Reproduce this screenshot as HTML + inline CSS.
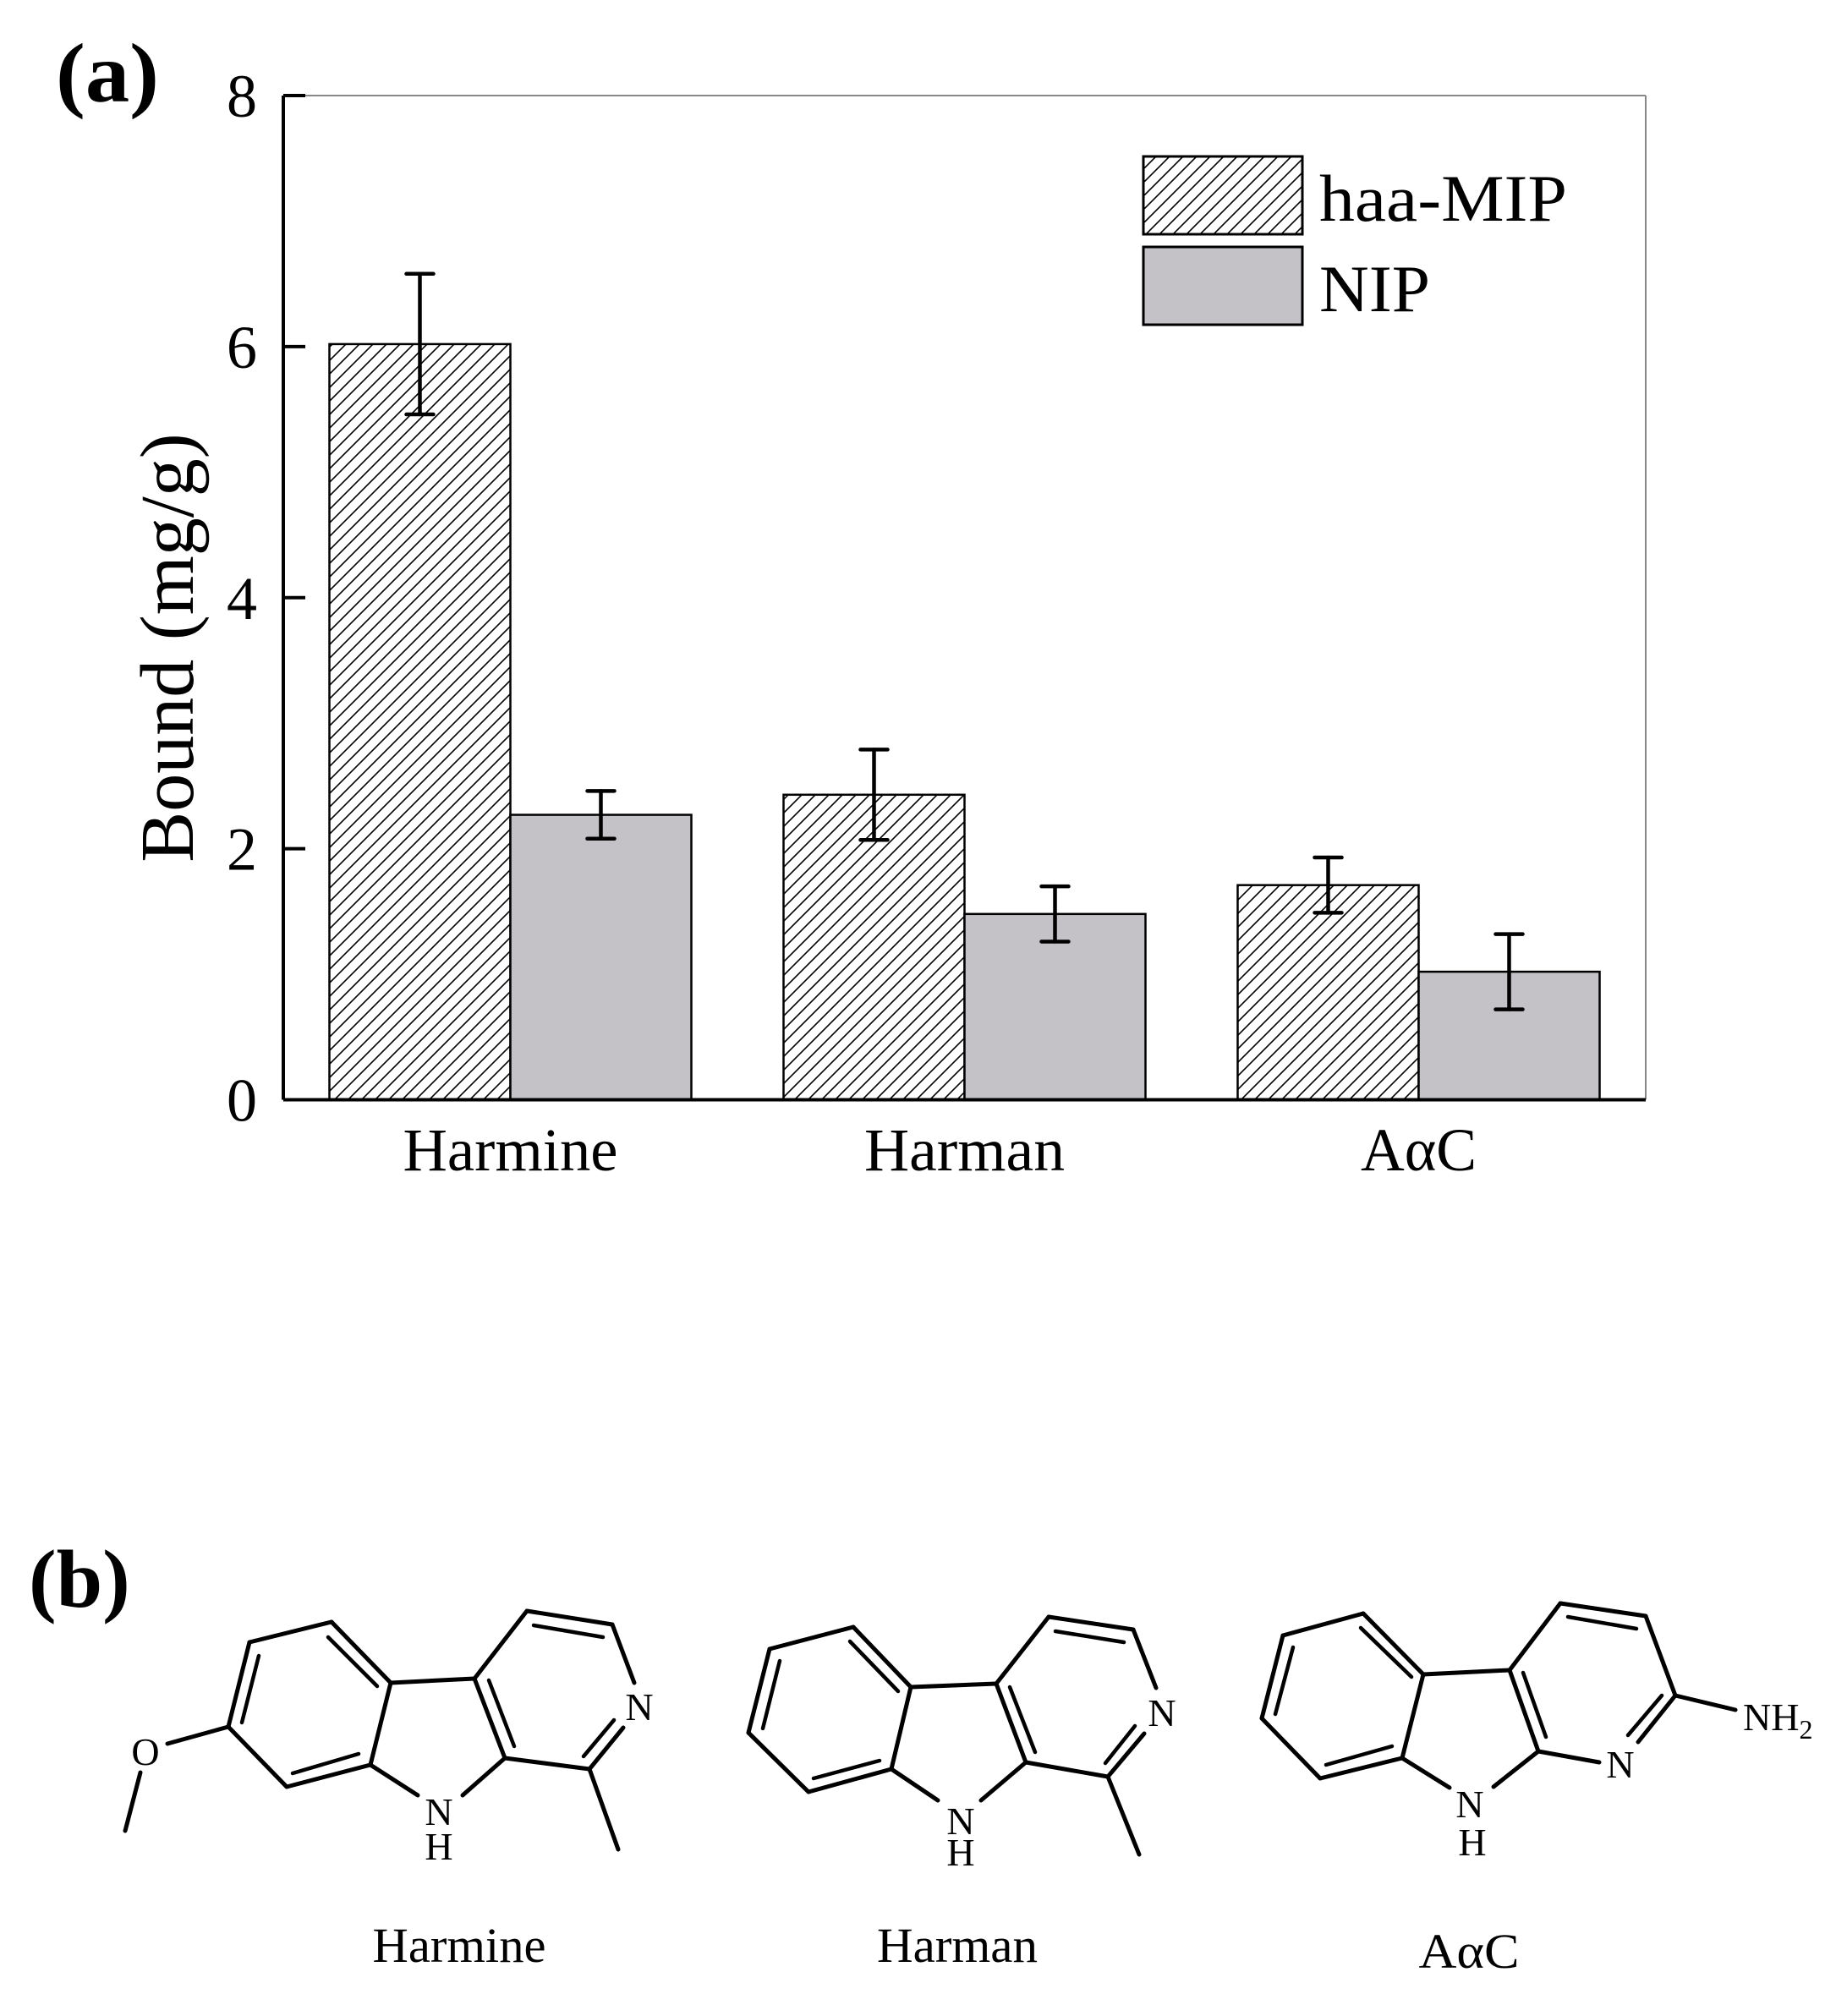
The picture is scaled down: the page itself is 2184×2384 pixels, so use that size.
<!DOCTYPE html>
<html><head><meta charset="utf-8"><style>
html,body{margin:0;padding:0;background:#fff;}
svg{display:block;font-family:"Liberation Serif",serif;}
</style></head><body>
<svg id="fig" xmlns="http://www.w3.org/2000/svg" width="2184" height="2384" viewBox="0 0 2184 2384">
<defs>
<pattern id="hatch" patternUnits="userSpaceOnUse" width="16" height="16">
<path d="M-4,4 L4,-4 M0,16 L16,0 M12,20 L20,12" stroke="#000" stroke-width="1.6"/>
</pattern>
</defs>
<text x="66" y="120" font-size="100" font-weight="bold" textLength="122" lengthAdjust="spacingAndGlyphs">(a)</text>
<g id="chart"></g>
<text x="34" y="1900" font-size="98" font-weight="bold">(b)</text>
<g id="structs" stroke="#000" stroke-width="5" stroke-linecap="round" fill="none"></g>
<g font-size="58" text-anchor="middle">
<text x="543" y="2320" textLength="205" lengthAdjust="spacingAndGlyphs">Harmine</text>
<text x="1132" y="2320" textLength="190" lengthAdjust="spacingAndGlyphs">Harman</text>
<text x="1737" y="2327" textLength="119" lengthAdjust="spacingAndGlyphs">AαC</text>
</g>
</svg>
<script>
const categories = ["Harmine", "Harman", "AαC"];
const mipValues = [6.02, 2.43, 1.71];
const mipErrors = [0.56, 0.36, 0.22];
const nipValues = [2.27, 1.48, 1.02];
const nipErrors = [0.19, 0.22, 0.30];
const yTicks = [0, 2, 4, 6, 8];
const seriesNames = ["haa-MIP", "NIP"];
const catLabelWidths = [254, 237, 137];
const legendWidths = [293, 131];

const NS = "http://www.w3.org/2000/svg";
const chart = document.getElementById("chart");
const L = 335, R = 1946, T = 113, B = 1300.5, yMax = 8;
function y(v){ return B - v / yMax * (B - T); }
const band = (R - L) / categories.length;
function xc(i){ return L + (i + 0.5) * band; }
const barW = 214;
function mk(tag, attrs, parent){
  const e = document.createElementNS(NS, tag);
  for (const k in attrs) e.setAttribute(k, attrs[k]);
  (parent || chart).appendChild(e);
  return e;
}
let e;
e = mk("line", {x1:L, y1:T, x2:R, y2:T, stroke:"#888", "stroke-width":2});


e = mk("line", {x1:R, y1:T, x2:R, y2:B, stroke:"#888", "stroke-width":2});


function drawBar(i, v, err, off, fill, nm){
  const x0 = xc(i) + off;
  const r = mk("rect", {x:x0, y:y(v), width:barW, height:B - y(v), fill:fill, stroke:"#000", "stroke-width":2.5});
  
  
  const cx = x0 + barW / 2;
  const g = mk("g", {stroke:"#000", "stroke-width":4.5, "stroke-linecap":"round"});
  
  
  mk("line", {x1:cx, y1:y(v + err), x2:cx, y2:y(v - err)}, g);
  mk("line", {x1:cx - 16, y1:y(v + err), x2:cx + 16, y2:y(v + err)}, g);
  mk("line", {x1:cx - 16, y1:y(v - err), x2:cx + 16, y2:y(v - err)}, g);
}
categories.forEach((c, i) => {
  drawBar(i, mipValues[i], mipErrors[i], -barW, "url(#hatch)", "mip");
  drawBar(i, nipValues[i], nipErrors[i], 0, "#c4c2c6", "nip");
  const t = mk("text", {x:xc(i), y:1384, "font-size":72, "text-anchor":"middle", textLength:catLabelWidths[i], lengthAdjust:"spacingAndGlyphs"});
  t.textContent = c;
  
  
});
e = mk("line", {x1:L, y1:T, x2:L, y2:B, stroke:"#000", "stroke-width":4});


e = mk("line", {x1:L, y1:B, x2:R, y2:B, stroke:"#000", "stroke-width":4});


yTicks.forEach(v => {
  const tk = mk("line", {x1:L, y1:y(v), x2:L + 26, y2:y(v), stroke:"#000", "stroke-width":4});
  
  
  const t = mk("text", {x:304, y:y(v) + 25, "font-size":72, "text-anchor":"end"});
  t.textContent = v;
  
  
});
e = mk("text", {x:0, y:0, "font-size":90, "text-anchor":"middle", transform:"translate(228,766) rotate(-90)"});
e.textContent = "Bound (mg/g)";


const lg = mk("g", {});


const legFills = ["url(#hatch)", "#c4c2c6"];
seriesNames.forEach((s, k) => {
  const yy = 185 + k * 107;
  const r = mk("rect", {x:1352, y:yy, width:188, height:92, fill:legFills[k], stroke:"#000", "stroke-width":3}, lg);
  
  
  const t = mk("text", {x:1560, y:yy + 76, "font-size":78, textLength:legendWidths[k], lengthAdjust:"spacingAndGlyphs"}, lg);
  t.textContent = s;
  
  
});

const S = document.getElementById("structs");
function ln(p, q, g, w){ mk("line", {x1:p[0], y1:p[1], x2:q[0], y2:q[1], "stroke-width": w || 5}, g); }
function txt(s, x, yy, g, size){
  const t = mk("text", {x:x, y:yy, "font-size":size || 46, "text-anchor":"middle", stroke:"none", fill:"#000"}, g);
  t.textContent = s;
  return t;
}
function molecule(name, d){
  const g = mk("g", {}, S);
  
  
  d.lines.forEach(l => ln(l[0], l[1], g));
  d.inner.forEach(l => ln(l[0], l[1], g, 4.5));
  d.labels.forEach(l => txt(l[0], l[1], l[2], g, l[3]));
  return g;
}
molecule("harmine-structure", {
  lines:[[[295,1942],[392,1918]],[[392,1918],[462,1990]],[[462,1990],[438,2087]],[[438,2087],[339,2113]],[[339,2113],[270,2042]],[[270,2042],[295,1942]],
    [[462,1990],[561,1985]],[[561,1985],[597,2079]],[[438,2087],[494,2123]],[[597,2079],[547,2123]],
    [[561,1985],[623,1905]],[[623,1905],[724,1921]],[[724,1921],[750,1990]],[[737,2043],[697,2092]],[[697,2092],[597,2079]],[[697,2092],[731,2187]],
    [[270,2042],[198,2062]],[[166,2096],[148,2165]]],
  inner:[[[306,1958],[286,2037]],[[388,1936],[446,1994]],[[424,2074],[346,2097]],[[578,1987],[608,2065]],[[631,1922],[713,1936]],[[726,2034],[690,2077]]],
  labels:[["N",519,2158],["H",519,2199],["N",756,2034],["O",172,2087]]
});
molecule("harman-structure", {
  lines:[[[910,1950],[1009,1924]],[[1009,1924],[1077,1995]],[[1077,1995],[1054,2092]],[[1054,2092],[956,2119]],[[956,2119],[885,2049]],[[885,2049],[910,1950]],
    [[1077,1995],[1178,1991]],[[1178,1991],[1213,2084]],[[1054,2092],[1109,2129]],[[1213,2084],[1160,2129]],
    [[1178,1991],[1240,1912]],[[1240,1912],[1340,1927]],[[1340,1927],[1367,1996]],[[1353,2050],[1310,2101]],[[1310,2101],[1213,2084]],[[1310,2101],[1347,2193]]],
  inner:[[[922,1964],[902,2044]],[[1005,1941],[1062,2000]],[[1040,2082],[962,2103]],[[1194,1995],[1224,2072]],[[1248,1929],[1329,1942]],[[1342,2041],[1307,2085]]],
  labels:[["N",1136,2169],["H",1136,2206],["N",1374,2041]]
});
const aac = molecule("aac-structure", {
  lines:[[[1517,1934],[1612,1908]],[[1612,1908],[1683,1980]],[[1683,1980],[1658,2079]],[[1658,2079],[1561,2103]],[[1561,2103],[1492,2032]],[[1492,2032],[1517,1934]],
    [[1683,1980],[1785,1975]],[[1785,1975],[1819,2071]],[[1658,2079],[1714,2114]],[[1819,2071],[1766,2113]],
    [[1785,1975],[1845,1896]],[[1845,1896],[1946,1911]],[[1946,1911],[1981,2005]],[[1981,2005],[2052,2022]],[[1981,2005],[1937,2060]],[[1819,2071],[1891,2084]]],
  inner:[[[1529,1948],[1508,2027]],[[1609,1925],[1669,1983]],[[1646,2065],[1568,2087]],[[1801,1978],[1828,2054]],[[1854,1912],[1935,1926]],[[1965,2005],[1925,2052]]],
  labels:[["N",1738,2149],["H",1741,2194],["N",1916,2102]]
});
const nh2 = mk("text", {x:2061, y:2046, "font-size":46, stroke:"none", fill:"#000"}, aac);


nh2.innerHTML = 'NH<tspan font-size="32" dy="10">2</tspan>';
</script>
</body></html>
